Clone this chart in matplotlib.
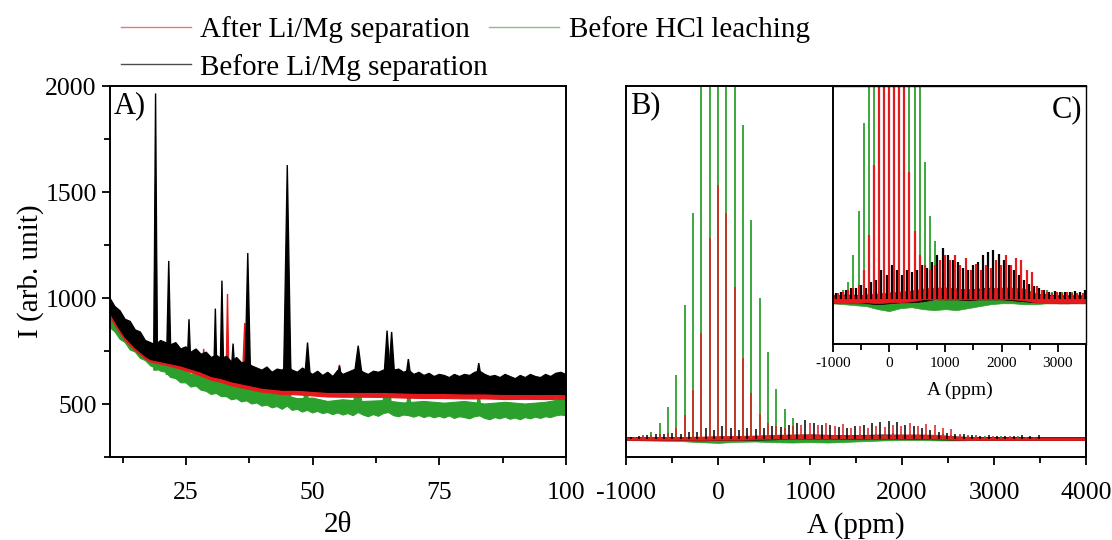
"""XRD (A) y espectros NMR (B, C) antes/despues de la separacion Li/Mg."""
import matplotlib
matplotlib.use("Agg")
import matplotlib.pyplot as plt
from matplotlib.lines import Line2D
from matplotlib.ticker import MultipleLocator

RED = "#e41a1c"
GREEN = "#2ca02c"
BLACK = "black"

# --- Panel A: XRD, bandas de ruido ---
# rejilla fina (1 grado) para los bordes visibles: techo negro y suelo verde
tt_fine = list(range(10, 101))
black_top = [1000, 960, 940, 900, 890, 850, 840, 800, 790, 780, 800, 790, 780, 790, 760, 770,
             745, 760, 735, 745, 720, 730, 715, 725, 700, 720, 695, 700, 680, 670, 660, 675,
             650, 665, 660, 680, 660, 650, 670, 655, 640, 655, 635, 650, 630, 660, 640, 650,
             660, 670, 650, 640, 655, 650, 660, 670, 660, 665, 650, 660, 640, 650, 635, 645,
             630, 640, 635, 625, 640, 630, 640, 635, 650, 655, 640, 630, 635, 625, 640, 630,
             620, 635, 625, 640, 630, 625, 640, 630, 645, 650, 640]
green_bot = [860, 840, 805, 790, 755, 745, 715, 705, 680, 670, 655, 650, 625, 620, 600, 600,
             580, 585, 565, 560, 545, 550, 535, 535, 520, 525, 510, 515, 500, 505, 490, 495,
             482, 488, 475, 490, 470, 475, 462, 470, 458, 465, 455, 460, 450, 458, 448, 455,
             445, 460, 448, 440, 450, 442, 455, 460, 445, 440, 448, 445, 438, 446, 436, 444,
             435, 442, 434, 444, 432, 440, 436, 430, 440, 444, 432, 426, 436, 430, 438, 428,
             434, 426, 436, 430, 438, 432, 440, 436, 444, 448, 445]

# rejilla gruesa para los bordes interiores
xrd_tt = [10, 11, 12, 13, 14, 15, 16, 17, 18, 20, 22, 24, 26, 28, 30, 32, 34, 36, 38,
          40, 42, 44, 47, 50, 53, 56, 60, 64, 68, 72, 76, 80, 84, 88, 92, 96, 100]
black_lo = [930, 890, 850, 815, 790, 765, 745, 725, 710, 700, 690, 680, 665, 650, 630, 620,
            605, 595, 585, 575, 570, 565, 565, 560, 555, 555, 555, 555, 552, 550, 550, 548,
            548, 545, 545, 545, 545]
red_hi = [975, 930, 900, 860, 840, 800, 785, 750, 740, 760, 735, 745, 715, 715, 700, 700,
          680, 690, 650, 650, 630, 650, 630, 635, 615, 625, 620, 630, 610, 620, 605, 620,
          605, 615, 600, 610, 625]
red_lo = [910, 872, 835, 800, 776, 752, 732, 712, 698, 688, 677, 664, 648, 632, 612, 602,
          586, 576, 566, 556, 550, 545, 543, 538, 533, 532, 532, 531, 528, 526, 526, 524,
          524, 521, 522, 521, 523]
green_hi = [915, 880, 860, 820, 810, 770, 760, 720, 710, 700, 680, 670, 640, 635, 610, 605,
            590, 590, 565, 560, 545, 545, 525, 528, 512, 520, 512, 516, 505, 512, 504, 512,
            500, 508, 500, 508, 525]

# Picos de difraccion: posicion, maximo, base y semi-ancho (grados)
black_pk_tt = [19.0, 21.6, 25.6, 30.8, 32.1, 34.3, 37.2, 45.0, 49.0, 55.3, 59.0, 64.7, 65.6, 68.9, 82.8]
black_pk_top = [1965, 1175, 900, 950, 1082, 785, 1212, 1627, 790, 680, 775, 846, 840, 712, 693]
black_pk_base = [740, 740, 720, 700, 700, 690, 680, 650, 640, 630, 630, 630, 630, 625, 620]
black_pk_hw = [0.35, 0.4, 0.3, 0.25, 0.3, 0.25, 0.5, 0.7, 0.5, 0.4, 0.8, 0.6, 0.6, 0.5, 0.5]

red_pk_tt = [19.0, 21.6, 28.5, 33.2, 36.6, 45.0, 55.3, 59.0, 64.7, 82.8]
red_pk_top = [1540, 900, 760, 1019, 882, 1171, 685, 700, 760, 640]
red_pk_base = [720, 710, 680, 660, 650, 620, 600, 600, 600, 590]
red_pk_hw = [0.35, 0.4, 0.2, 0.25, 0.4, 0.7, 0.3, 0.8, 0.6, 0.4]

green_pk_tt = [19.0, 21.6, 37.2, 45.0, 48.7, 58.9, 64.7, 69.0, 82.8, 98.6]
green_pk_top = [1100, 800, 700, 1000, 613, 637, 676, 566, 551, 561]
green_pk_base = [660, 640, 540, 510, 500, 490, 485, 480, 475, 470]
green_pk_hw = [0.35, 0.5, 0.5, 0.7, 0.5, 0.9, 0.9, 0.5, 0.5, 0.5]

# --- Paneles B y C: bandas laterales (ppm) y alturas normalizadas ---
sb_ppm = [-996, -905, -815, -724, -634, -543, -453, -362, -272, -181, -91, 0, 91, 181, 272,
          362, 453, 543, 634, 724, 815, 905, 996, 1086, 1177, 1267, 1358, 1448, 1539, 1629,
          1720, 1810, 1901, 1991, 2082, 2172, 2263, 2353, 2444, 2534, 2625, 2715, 2806, 2896,
          2987, 3077, 3168, 3258, 3349, 3439]
green_sb = [0.004, 0.006, 0.01, 0.018, 0.045, 0.09, 0.18, 0.38, 0.64, 1.3, 1.8, 2.0, 1.8, 1.4,
            0.89, 0.62, 0.40, 0.245, 0.14, 0.085, 0.06, 0.012, 0.01, 0.008, 0.006, 0.008, 0.006,
            0.01, 0.012, 0.01, 0.014, 0.012, 0.015, 0.012, 0.014, 0.012, 0.012, 0.01, 0.012,
            0.01, 0.01, 0.008, 0.01, 0.008, 0.006, 0.008, 0.006, 0.008, 0.006, 0.006]
red_sb = [0.005, 0.006, 0.008, 0.01, 0.012, 0.015, 0.03, 0.066, 0.137, 0.30, 0.57, 0.72, 0.64,
          0.43, 0.23, 0.13, 0.07, 0.045, 0.035, 0.03, 0.035, 0.04, 0.045, 0.04, 0.045, 0.035,
          0.042, 0.03, 0.036, 0.03, 0.035, 0.032, 0.04, 0.035, 0.045, 0.035, 0.042, 0.04, 0.03,
          0.028, 0.014, 0.01, 0.008, 0.006, 0.008, 0.006, 0.007, 0.006, 0.006, 0.006]
black_ppm = [-951, -860, -770, -679, -589, -498, -408, -317, -227, -136, -46, 45, 136, 226, 317,
             407, 498, 588, 679, 769, 860, 950, 1041, 1131, 1222, 1312, 1403, 1493, 1584, 1674,
             1765, 1855, 1946, 2036, 2127, 2217, 2308, 2398, 2489, 2579, 2670, 2760, 2851, 2941,
             3032, 3122, 3213, 3303, 3394, 3484]
black_sb = [0.006, 0.008, 0.01, 0.012, 0.012, 0.015, 0.012, 0.018, 0.02, 0.03, 0.025, 0.035,
            0.03, 0.025, 0.03, 0.028, 0.03, 0.035, 0.032, 0.038, 0.045, 0.052, 0.045, 0.04,
            0.038, 0.032, 0.03, 0.035, 0.038, 0.045, 0.048, 0.05, 0.046, 0.04, 0.035, 0.03,
            0.025, 0.02, 0.016, 0.014, 0.012, 0.01, 0.008, 0.009, 0.007, 0.008, 0.007, 0.009,
            0.008, 0.01]

nmr_ppm = [-1000, -800, -600, -400, -200, 0, 200, 400, 600, 800, 1000, 1200, 1400, 1600, 1800,
           2000, 2200, 2400, 2600, 2800, 3000, 3200, 3400, 3600, 3800, 4000]
nmr_black_lo = [-0.004, -0.003, -0.004, -0.004, -0.005, -0.004, -0.003, -0.003, -0.002, 0.0,
                0.0, 0.0, -0.001, 0.0, 0.0, 0.0, -0.001, -0.002, -0.003, -0.003, -0.004,
                -0.004, -0.003, -0.004, -0.003, -0.004]
nmr_black_hi = [0.004, 0.004, 0.004, 0.005, 0.005, 0.006, 0.006, 0.007, 0.009, 0.011, 0.012,
                0.011, 0.01, 0.011, 0.012, 0.011, 0.01, 0.008, 0.006, 0.005, 0.004, 0.004,
                0.004, 0.004, 0.004, 0.004]
nmr_red_lo = [-0.004, -0.004, -0.004, -0.003, -0.004, -0.003, -0.003, -0.002, 0.0, 0.0, 0.0,
              0.0, 0.0, 0.0, 0.0, 0.0, 0.0, -0.001, -0.003, -0.004, -0.004, -0.004, -0.004,
              -0.004, -0.004, -0.004]
nmr_red_hi = [0.003, 0.004, 0.004, 0.005, 0.006, 0.007, 0.008, 0.009, 0.011, 0.012, 0.012, 0.011,
              0.01, 0.01, 0.011, 0.012, 0.012, 0.011, 0.006, 0.004, 0.003, 0.003, 0.003, 0.003,
              0.003, 0.003]
nmr_green_lo = [-0.004, -0.005, -0.006, -0.007, -0.01, -0.012, -0.009, -0.008, -0.01, -0.011,
                -0.01, -0.011, -0.009, -0.007, -0.005, -0.004, -0.004, -0.005, -0.005, -0.004,
                -0.004, -0.004, -0.004, -0.004, -0.004, -0.004]
nmr_green_hi = [0.004, 0.005, 0.005, 0.004, 0.003, 0.003, 0.002, 0.001, 0.0, -0.001, 0.0,
                0.002, 0.004, 0.006, 0.008, 0.008, 0.008, 0.007, 0.006, 0.004, 0.004, 0.004,
                0.004, 0.004, 0.004, 0.004]

LABELS = ["After Li/Mg separation", "Before HCl leaching", "Before Li/Mg separation"]


def draw_band(ax, x_top, top, x_bot, bot, color):
    ax.fill(list(x_top) + list(x_bot)[::-1], list(top) + list(bot)[::-1],
            color=color, lw=0.8)


def draw_peaks(ax, pk_tt, pk_top, pk_base, pk_hw, color):
    for p, t, b, w in zip(pk_tt, pk_top, pk_base, pk_hw):
        ax.fill([p - w, p, p + w], [b, t, b], color=color, lw=1.0)


def draw_nmr(ax, lo, hi, ppm, sb, color, lw):
    ax.fill_between(nmr_ppm, lo, hi, color=color, lw=0.5)
    ax.vlines(ppm, 0, sb, color=color, lw=lw)


def main() -> None:
    plt.rcParams["font.family"] = ["Liberation Serif", "DejaVu Serif"]
    plt.rcParams["axes.unicode_minus"] = False

    fig = plt.figure(figsize=(11.12, 5.4), dpi=100)
    axA = fig.add_axes([0.0989, 0.1537, 0.410, 0.687])
    axB = fig.add_axes([0.563, 0.1537, 0.4137, 0.687])
    axC = fig.add_axes([0.749, 0.363, 0.2276, 0.4777])

    # A) XRD: verde, rojo, negro (negro encima)
    draw_band(axA, xrd_tt, green_hi, tt_fine, green_bot, GREEN)
    draw_peaks(axA, green_pk_tt, green_pk_top, green_pk_base, green_pk_hw, GREEN)
    draw_band(axA, xrd_tt, red_hi, xrd_tt, red_lo, RED)
    draw_peaks(axA, red_pk_tt, red_pk_top, red_pk_base, red_pk_hw, RED)
    draw_band(axA, tt_fine, black_top, xrd_tt, black_lo, BLACK)
    draw_peaks(axA, black_pk_tt, black_pk_top, black_pk_base, black_pk_hw, BLACK)
    axA.set_xlim(10, 100)
    axA.set_ylim(250, 2000)
    axA.xaxis.set_major_locator(MultipleLocator(25))
    axA.xaxis.set_minor_locator(MultipleLocator(12.5))
    axA.yaxis.set_major_locator(MultipleLocator(500))
    axA.yaxis.set_minor_locator(MultipleLocator(250))
    axA.set_xlabel("2θ", fontsize=21, labelpad=6)
    axA.set_ylabel("I (arb. unit)", fontsize=21, labelpad=1)
    axA.text(0.008, 0.985, "A)", transform=axA.transAxes, fontsize=22, va="top", ha="left")

    # B) y C) NMR; en el inset los palos rojo/negro un poco mas gruesos
    for ax, lw_rb in ((axB, 1.1), (axC, 1.6)):
        draw_nmr(ax, nmr_green_lo, nmr_green_hi, sb_ppm, green_sb, GREEN, 1.3)
        draw_nmr(ax, nmr_black_lo, nmr_black_hi, black_ppm, black_sb, BLACK, lw_rb)
        draw_nmr(ax, nmr_red_lo, nmr_red_hi, sb_ppm, red_sb, RED, lw_rb)

    axB.set_xlim(-1000, 4000)
    axB.set_ylim(-0.052, 1.0)
    axB.xaxis.set_major_locator(MultipleLocator(1000))
    axB.xaxis.set_minor_locator(MultipleLocator(500))
    axB.set_yticks([])
    axB.set_xlabel("A (ppm)", fontsize=21, labelpad=6)
    axB.text(0.008, 0.985, "B)", transform=axB.transAxes, fontsize=22, va="top", ha="left")

    axC.set_xlim(-1000, 3500)
    axC.set_ylim(-0.0455, 0.2175)
    axC.xaxis.set_major_locator(MultipleLocator(1000))
    axC.xaxis.set_minor_locator(MultipleLocator(500))
    axC.set_yticks([])
    axC.set_xlabel("A (ppm)", fontsize=14, labelpad=8)
    axC.text(0.985, 0.965, "C)", transform=axC.transAxes, fontsize=22, va="top", ha="right")

    for ax in (axA, axB, axC):
        for sp in ax.spines.values():
            sp.set_linewidth(1.4)
        ax.tick_params(which="both", direction="out", top=False, right=False, width=1.3)
        ax.tick_params(which="major", length=6)
        ax.tick_params(which="minor", length=4)
    axA.tick_params(labelsize=18.5)
    axA.tick_params(axis="x", pad=12)
    axB.tick_params(labelsize=18.5, pad=12)
    axC.tick_params(labelsize=11)
    axC.spines["right"].set_linewidth(1.0)
    axC.spines["top"].set_linewidth(1.0)

    handles = [Line2D([], [], color=RED, lw=1.0, alpha=0.6),
               Line2D([], [], color=BLACK, lw=1.0, alpha=0.7),
               Line2D([], [], color=GREEN, lw=1.0, alpha=0.6)]
    fig.legend(handles, [LABELS[0], LABELS[2], LABELS[1]], ncol=2, loc="upper left",
               bbox_to_anchor=(0.1085, 0.970), frameon=False, fontsize=21,
               handlelength=2.4, handletextpad=0.32, columnspacing=0.05,
               labelspacing=0.36, borderpad=0, borderaxespad=0)

    fig.savefig("out.png", dpi=100)


if __name__ == "__main__":
    main()
